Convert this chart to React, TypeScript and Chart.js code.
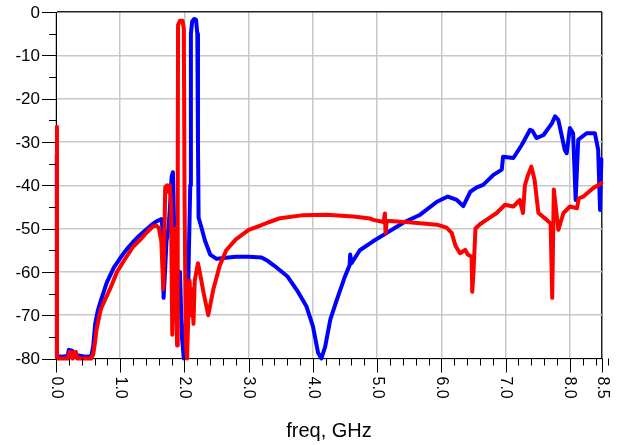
import React, { useEffect, useRef } from 'react';
import { Chart, registerables } from 'chart.js';

Chart.register(...registerables);

// ---- Data ----
const blueFreq = [
  0.012, 0.013, 0.02, 0.1, 0.18, 0.2, 0.25, 0.27, 0.35, 0.45, 0.55, 0.58, 0.61, 0.65, 0.7, 0.79, 0.9, 1.0,
  1.1, 1.2, 1.3, 1.4, 1.5, 1.57, 1.64, 1.66, 1.675, 1.69, 1.72, 1.75, 1.77, 1.79, 1.8, 1.82, 1.84, 1.86,
  1.9, 1.93, 1.96, 1.99, 2.02, 2.06, 2.09, 2.1, 2.12, 2.15, 2.18, 2.2, 2.21, 2.22, 2.25, 2.32, 2.4, 2.5,
  2.6, 2.8, 3.0, 3.2, 3.3, 3.4, 3.6, 3.75, 3.9, 4.0, 4.08, 4.13, 4.19, 4.27, 4.37, 4.5, 4.57, 4.58, 4.6,
  4.73, 4.93, 5.15, 5.4, 5.67, 5.93, 6.1, 6.24, 6.34, 6.45, 6.55, 6.65, 6.81, 6.94, 6.96, 7.12, 7.25,
  7.38, 7.42, 7.48, 7.59, 7.72, 7.77, 7.82, 7.92, 7.95, 8.0, 8.05, 8.09, 8.13, 8.26, 8.39, 8.44, 8.47, 8.49,
];
const blueDb = [
  -33, -79.5, -79.5, -79.6, -79.4, -78, -78.2, -79.5, -79.3, -79.6, -79.5, -77, -72, -69, -66.5, -62.5, -59, -56.8,
  -54.8, -53.1, -51.6, -50.3, -49.0, -48.3, -47.8, -50, -66, -62, -53, -50, -46, -41, -38, -37, -50, -60,
  -64, -60, -75, -80, -72, -62, -40, -5, -2.2, -1.6, -1.8, -5, -30, -47.5, -49, -52.8, -56, -57,
  -56.8, -56.5, -56.5, -56.7, -57.5, -58.6, -61, -64.2, -68, -72.6, -78.7, -80, -77.3, -71, -66.5, -61, -58.5, -56, -58,
  -55, -53, -51, -48.7, -46.8, -43.8, -42.6, -43.4, -44.8, -41.5, -40.5, -39.9, -37.6, -36.4, -33.4, -33.7, -30.7,
  -27.2, -27.5, -29.1, -28.4, -25.7, -24.1, -24.9, -31.8, -32.6, -26.8, -28, -43.4, -29.5, -28, -28, -31.8, -45.7, -34,
];

const redFreq = [
  0.015, 0.016, 0.1, 0.19, 0.21, 0.24, 0.26, 0.29, 0.31, 0.33, 0.55, 0.58, 0.61, 0.63, 0.7, 0.84, 0.95, 1.05,
  1.2, 1.31, 1.42, 1.51, 1.56, 1.6, 1.64, 1.67, 1.69, 1.7, 1.73, 1.75, 1.77, 1.79, 1.81, 1.83, 1.85, 1.87,
  1.885, 1.895, 1.9, 1.93, 1.97, 1.99, 2.0, 2.02, 2.04, 2.06, 2.08, 2.1, 2.12, 2.14, 2.16, 2.21, 2.25, 2.3,
  2.37, 2.45, 2.55, 2.65, 2.8, 3.0, 3.18, 3.3, 3.49, 3.85, 4.21, 4.63, 4.89, 4.94, 5.1, 5.12, 5.13, 5.15,
  5.36, 5.67, 5.93, 6.08, 6.16, 6.22, 6.29, 6.37, 6.41, 6.47, 6.48, 6.5, 6.53, 6.6, 6.7, 6.86, 6.99, 7.12,
  7.22, 7.27, 7.3, 7.34, 7.4, 7.45, 7.51, 7.64, 7.7, 7.725, 7.75, 7.82, 7.9, 8.0, 8.11, 8.14, 8.21, 8.36, 8.49,
];
const redDb = [
  -26.5, -80, -80, -80, -78.5, -78.6, -80, -78.6, -78.5, -80, -80, -79, -76, -73.4, -68.5, -64, -60, -57.6,
  -54.2, -52.6, -50.8, -49.5, -49.3, -49.8, -53, -64, -50, -40.5, -40, -41.5, -40, -44, -74.5, -60, -50, -66,
  -77, -40, -3, -2, -2, -4, -40, -76, -80, -70, -62, -70, -64, -72, -62, -58, -61, -65,
  -70, -64, -58.5, -55, -52.5, -50.3, -49.3, -48.6, -47.6, -46.9, -46.8, -47.2, -47.7, -48, -48.5, -46.5, -51, -48.2,
  -48.4, -48.8, -49.1, -49.8, -51, -54, -55.7, -54.9, -56, -56.5, -64.6, -60, -50, -49, -48, -46.4, -44.5, -44.9,
  -43.4, -46.4, -40, -38, -35.7, -38.7, -46.4, -48, -48.8, -66, -41, -50.3, -46.4, -44.9, -45.3, -43, -42.6, -40.7, -39.5,
];

const xTickValues = [0, 1, 2, 3, 4, 5, 6, 7, 8, 8.5];
const xTickLabels = ['0.0', '1.0', '2.0', '3.0', '4.0', '5.0', '6.0', '7.0', '8.0', '8.5'];
const xMinorStep = 0.2;
const yTickValues = [0, -10, -20, -30, -40, -50, -60, -70, -80];
const yTickLabels = ['0', '-10', '-20', '-30', '-40', '-50', '-60', '-70', '-80'];
const yMinorStep = 5;
const xAxisTitle = 'freq, GHz';

const FONT = "'Liberation Sans', Arial, Helvetica, sans-serif";

const decorPlugin = {
  id: 'decor',
  afterDraw(chart: any) {
    const { ctx, chartArea: ca, scales } = chart;
    const xs = scales.x;
    const ys = scales.y;
    ctx.save();
    ctx.strokeStyle = '#000';
    ctx.lineWidth = 1;
    // x tick marks
    const nMinor = Math.round(8.5 / xMinorStep);
    const xt: number[] = [];
    for (let i = 0; i <= nMinor; i++) xt.push(Math.round(i * xMinorStep * 100) / 100);
    if (!xt.includes(8.5)) xt.push(8.5);
    ctx.beginPath();
    xt.forEach((v) => {
      const major = xTickValues.includes(v);
      const px = Math.round(xs.getPixelForValue(v)) + 0.5;
      ctx.moveTo(px, ca.bottom);
      ctx.lineTo(px, ca.bottom + (major ? 14 : 7));
    });
    // y tick marks
    for (let v = -80; v <= 0; v += yMinorStep) {
      const major = yTickValues.includes(v);
      const py = Math.round(ys.getPixelForValue(v)) + 0.5;
      ctx.moveTo(ca.left, py);
      ctx.lineTo(ca.left - (major ? 14 : 7), py);
    }
    ctx.stroke();

    ctx.fillStyle = '#000';
    // y labels
    ctx.font = `17px ${FONT}`;
    ctx.textAlign = 'right';
    ctx.textBaseline = 'middle';
    yTickValues.forEach((v, i) => {
      ctx.fillText(yTickLabels[i], ca.left - 16, ys.getPixelForValue(v) + 1);
    });
    // x labels rotated clockwise
    ctx.font = `16px ${FONT}`;
    xTickValues.forEach((v, i) => {
      ctx.save();
      ctx.translate(xs.getPixelForValue(v), ca.bottom + 18);
      ctx.rotate(Math.PI / 2);
      ctx.textAlign = 'left';
      ctx.textBaseline = 'middle';
      ctx.fillText(xTickLabels[i], 0, 0);
      ctx.restore();
    });
    // axis title
    ctx.font = `20px ${FONT}`;
    ctx.textAlign = 'center';
    ctx.textBaseline = 'middle';
    ctx.fillText(xAxisTitle, (ca.left + ca.right) / 2, 431);
    ctx.restore();
  },
};

export default function App() {
  const ref = useRef<HTMLCanvasElement | null>(null);
  useEffect(() => {
    if (!ref.current) return;
    const toPts = (f: number[], d: number[]) => f.map((x, i) => ({ x, y: d[i] }));
    const chart = new Chart(ref.current, {
      type: 'line',
      data: {
        datasets: [
          {
            label: 'red',
            data: toPts(redFreq, redDb),
            borderColor: '#ff0000',
            borderWidth: 4,
            pointRadius: 0,
            tension: 0,
            clip: false,
            borderJoinStyle: 'round',
            borderCapStyle: 'round',
          },
          {
            label: 'blue',
            data: toPts(blueFreq, blueDb),
            borderColor: '#0000ff',
            borderWidth: 4,
            pointRadius: 0,
            tension: 0,
            clip: false,
            borderJoinStyle: 'round',
            borderCapStyle: 'round',
          },
        ],
      },
      options: {
        responsive: false,
        animation: false,
        layout: { padding: { top: 12, right: 20, left: 0, bottom: 0 } },
        plugins: { legend: { display: false }, tooltip: { enabled: false } },
        scales: {
          x: {
            type: 'linear',
            min: 0,
            max: 8.5,
            ticks: { display: false, stepSize: 1 },
            grid: {
              drawTicks: false,
              lineWidth: 1.5,
              color: (c: any) => (c.tick && c.tick.value === 8.5 ? '#222' : '#c8c8c8'),
            },
            border: { display: true, color: '#000', width: 1 },
            afterFit: (s: any) => {
              s.height = 86.5;
            },
          },
          y: {
            type: 'linear',
            min: -80,
            max: 0,
            ticks: { display: false, stepSize: 10 },
            grid: {
              drawTicks: false,
              lineWidth: 1.5,
              color: (c: any) => (c.tick && c.tick.value === 0 ? '#222' : '#c8c8c8'),
            },
            border: { display: true, color: '#000', width: 1 },
            afterFit: (s: any) => {
              s.width = 56;
            },
          },
        },
      },
      plugins: [decorPlugin],
    });
    return () => chart.destroy();
  }, []);
  return (
    <div style={{ position: 'fixed', left: 0, top: 0, width: 622, height: 445, background: '#fff' }}>
      <canvas ref={ref} width={622} height={445} style={{ display: 'block' }} />
    </div>
  );
}
